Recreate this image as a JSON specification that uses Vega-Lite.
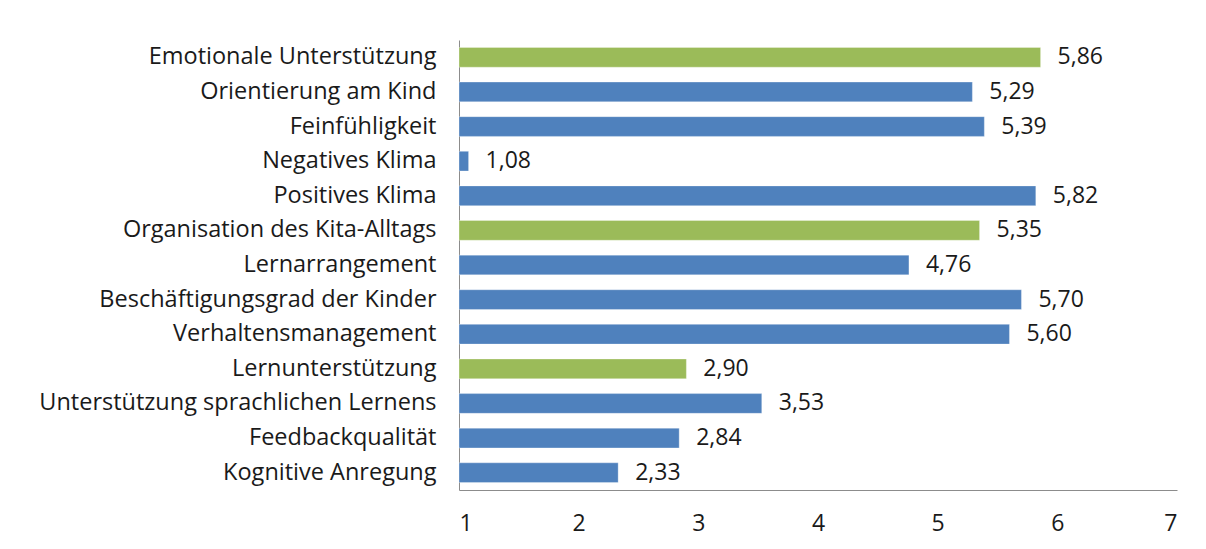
{
  "$schema": "https://vega.github.io/schema/vega-lite/v6.json",
  "width": 718,
  "height": 450,
  "autosize": {"type": "none"},
  "padding": {"left": 459, "top": 40, "right": 29, "bottom": 59},
  "background": "white",
  "config": {
    "view": {"stroke": null},
    "font": "Open Sans",
    "locale": {"number": {"decimal": ",", "thousands": ".", "grouping": [3], "currency": ["", " €"]}}
  },
  "data": {
    "values": [
      {"kategorie": "Emotionale Unterstützung", "wert": 5.86, "typ": "Domäne"},
      {"kategorie": "Orientierung am Kind", "wert": 5.29, "typ": "Dimension"},
      {"kategorie": "Feinfühligkeit", "wert": 5.39, "typ": "Dimension"},
      {"kategorie": "Negatives Klima", "wert": 1.08, "typ": "Dimension"},
      {"kategorie": "Positives Klima", "wert": 5.82, "typ": "Dimension"},
      {"kategorie": "Organisation des Kita-Alltags", "wert": 5.35, "typ": "Domäne"},
      {"kategorie": "Lernarrangement", "wert": 4.76, "typ": "Dimension"},
      {"kategorie": "Beschäftigungsgrad der Kinder", "wert": 5.70, "typ": "Dimension"},
      {"kategorie": "Verhaltensmanagement", "wert": 5.60, "typ": "Dimension"},
      {"kategorie": "Lernunterstützung", "wert": 2.90, "typ": "Domäne"},
      {"kategorie": "Unterstützung sprachlichen Lernens", "wert": 3.53, "typ": "Dimension"},
      {"kategorie": "Feedbackqualität", "wert": 2.84, "typ": "Dimension"},
      {"kategorie": "Kognitive Anregung", "wert": 2.33, "typ": "Dimension"}
    ]
  },
  "encoding": {
    "y": {
      "field": "kategorie", "type": "nominal", "sort": null,
      "scale": {"paddingInner": 0.43, "paddingOuter": 0.215},
      "axis": {"title": null, "ticks": false, "labelFontSize": 23.5, "labelColor": "#1a1a1a", "labelPadding": 23, "domainColor": "#8c8c8c", "labelLimit": 0}
    },
    "x": {
      "field": "wert", "type": "quantitative",
      "scale": {"domain": [1, 7], "zero": false, "nice": false},
      "axis": {"title": null, "ticks": false, "grid": false, "values": [1, 2, 3, 4, 5, 6, 7], "format": "d", "labelFontSize": 23, "labelColor": "#1a1a1a", "labelPadding": 22, "domainColor": "#8c8c8c"}
    }
  },
  "layer": [
    {
      "mark": {"type": "bar", "stroke": "#ffffff", "strokeOpacity": 0.3, "strokeWidth": 1},
      "encoding": {
        "x2": {"datum": 1},
        "color": {"field": "typ", "type": "nominal", "scale": {"domain": ["Domäne", "Dimension"], "range": ["#9bbb59", "#4f81bd"]}, "legend": null}
      }
    },
    {
      "mark": {"type": "text", "align": "left", "dx": 17, "fontSize": 23, "color": "#1a1a1a"},
      "encoding": {
        "text": {"field": "wert", "type": "quantitative", "format": ".2f"}
      }
    }
  ]
}
